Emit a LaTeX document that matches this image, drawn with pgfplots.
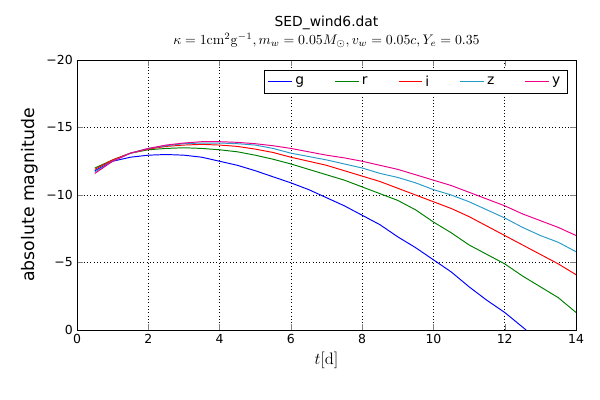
\documentclass[border=0pt]{standalone}
\usepackage{pgfplots}
\pgfplotsset{compat=1.18}
\usepackage[no-math]{fontspec}
\setmainfont{DejaVu Sans}
\begin{document}
\fontsize{8.6pt}{10pt}\selectfont
\begin{tikzpicture}
\path (-0.77in,-0.7in) rectangle (5.23in,3.3in);
\begin{axis}[at={(0,0)},anchor=south west,scale only axis,width=4.99in,height=2.7in,
xmin=0,xmax=14,ymin=-20,ymax=0,y dir=reverse,
xtick={0,2,...,14},ytick={-20,-15,-10,-5,0},
yticklabels={−20,−15,−10,−5,0},
tick align=inside,ticks=both,
grid=major,grid style={black,dotted},
/pgf/number format/assume math mode=true,
tick label style={font=\fontsize{9pt}{10pt}\selectfont},
xlabel={$t[\mathrm{d}]$},ylabel={absolute magnitude},
xlabel style={font=\fontsize{12pt}{13pt}\selectfont},
ylabel style={font=\fontsize{12.5pt}{14pt}\selectfont},
title={SED\_wind6.dat\\[1pt]$\kappa=1\mathrm{cm}^2\mathrm{g}^{-1}, m_w=0.05M_\odot, v_w=0.05c, Y_e=0.35$},
title style={align=center,font=\fontsize{10pt}{12pt}\selectfont},
legend columns=5,legend style={at={(0.983,0.963)},anchor=north east,draw=black,
 font=\fontsize{10pt}{11pt}\selectfont,/tikz/every even column/.append style={column sep=20pt}},
legend cell align=left]
\addplot[blue,line width=0.7pt] coordinates {(0.5,-11.8)(1,-12.5)(1.5,-12.8)(2,-12.95)(2.5,-13.0)(3,-12.95)(3.5,-12.8)(4,-12.5)(4.5,-12.2)(5,-11.8)(5.5,-11.35)(6,-10.9)(6.5,-10.4)(7,-9.8)(7.5,-9.2)(8,-8.5)(8.5,-7.8)(9,-6.9)(9.5,-6.1)(10,-5.2)(10.5,-4.3)(11,-3.2)(11.5,-2.2)(12,-1.3)(12.6,0)};
\addlegendentry{g}
\addplot[green!50!black,line width=0.7pt] coordinates {(0.5,-12.0)(1,-12.6)(1.5,-13.1)(2,-13.35)(2.5,-13.45)(3,-13.5)(3.5,-13.45)(4,-13.35)(4.5,-13.2)(5,-12.95)(5.5,-12.65)(6,-12.3)(6.5,-11.9)(7,-11.5)(7.5,-11.1)(8,-10.6)(8.5,-10.1)(9,-9.6)(9.5,-8.9)(10,-8.0)(10.5,-7.2)(11,-6.3)(11.5,-5.6)(12,-4.9)(12.5,-4.0)(13,-3.2)(13.5,-2.4)(14,-1.3)};
\addlegendentry{r}
\addplot[red,line width=0.7pt] coordinates {(0.5,-11.9)(1,-12.6)(1.5,-13.1)(2,-13.4)(2.5,-13.6)(3,-13.7)(3.5,-13.75)(4,-13.7)(4.5,-13.6)(5,-13.4)(5.5,-13.15)(6,-12.8)(6.5,-12.5)(7,-12.2)(7.5,-11.8)(8,-11.4)(8.5,-11.0)(9,-10.5)(9.5,-10.0)(10,-9.5)(10.5,-9.0)(11,-8.4)(11.5,-7.7)(12,-7.0)(12.5,-6.3)(13,-5.6)(13.5,-4.9)(14,-4.1)};
\addlegendentry{i}
\addplot[cyan!80!black,line width=0.7pt] coordinates {(0.5,-11.7)(1,-12.5)(1.5,-13.1)(2,-13.45)(2.5,-13.65)(3,-13.8)(3.5,-13.85)(4,-13.85)(4.5,-13.8)(5,-13.7)(5.5,-13.45)(6,-13.1)(6.5,-12.85)(7,-12.6)(7.5,-12.3)(8,-12.0)(8.5,-11.6)(9,-11.3)(9.5,-10.9)(10,-10.4)(10.5,-10.0)(11,-9.5)(11.5,-8.9)(12,-8.3)(12.5,-7.6)(13,-7.0)(13.5,-6.5)(14,-5.8)};
\addlegendentry{z}
\addplot[magenta,line width=0.7pt] coordinates {(0.5,-11.6)(1,-12.5)(1.5,-13.1)(2,-13.45)(2.5,-13.7)(3,-13.85)(3.5,-13.95)(4,-13.95)(4.5,-13.9)(5,-13.8)(5.5,-13.65)(6,-13.45)(6.5,-13.2)(7,-12.95)(7.5,-12.75)(8,-12.5)(8.5,-12.2)(9,-11.9)(9.5,-11.5)(10,-11.1)(10.5,-10.7)(11,-10.2)(11.5,-9.7)(12,-9.2)(12.5,-8.6)(13,-8.1)(13.5,-7.6)(14,-7.0)};
\addlegendentry{y}
\end{axis}
\end{tikzpicture}
\end{document}
